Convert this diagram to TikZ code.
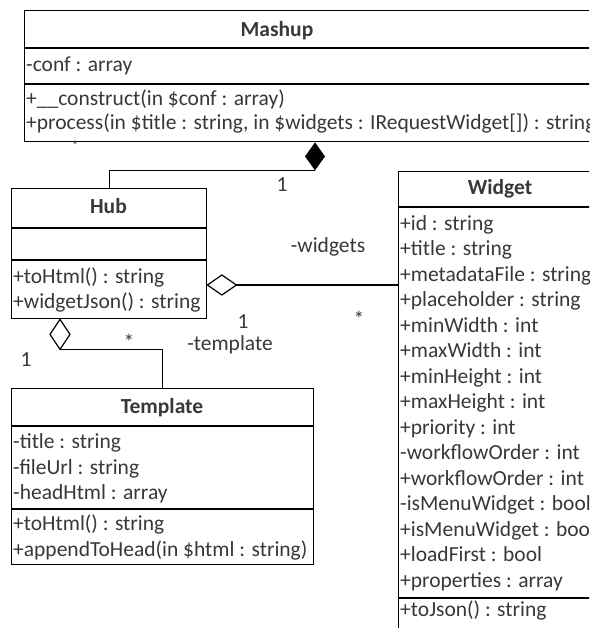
\documentclass[tikz,border=0pt]{standalone}
\usepackage{fontspec}
\setmainfont{Carlito}
\usetikzlibrary{calc}
\definecolor{txt}{gray}{0.22}
\tikzset{
  box/.style={draw=black, line width=1.4pt, rectangle, inner sep=0pt, anchor=north west},
  sep/.style={draw=black, line width=1.4pt},
  conn/.style={draw=black, line width=1.4pt},
  lbl/.style={anchor=base west, inner sep=0pt, text=txt, font=\fontsize{21.5}{25}\selectfont},
  ttl/.style={anchor=base, inner sep=0pt, text=txt, font=\fontsize{21.5}{25}\selectfont\bfseries},
  mult/.style={anchor=center, inner sep=0pt, text=txt, font=\fontsize{21.5}{25}\selectfont},
}
\begin{document}
\begin{tikzpicture}[x=1pt,y=-1pt]
\clip (0,0) rectangle (589,628);
\fill[white] (0,0) rectangle (589,628);
% ---------- Mashup ----------
\node[box, minimum width=620pt, minimum height=131pt] (mashup) at (24,10) {};
\draw[sep] (24,48) -- (620,48);
\draw[sep] (24,84) -- (620,84);
\node[ttl] (mashupT) at (277,37) {Mashup};
\node[lbl] (m1) at (26,72) {-conf : array};
\node[lbl] (m2) at (26,106) {+\_\_construct(in \$conf : array)};
\node[lbl] (m3) at (26,130) {+process(in \$title : string, in \$widgets : IRequestWidget[]) : string};
\node[anchor=center, inner sep=0pt, text=txt, font=\fontsize{14}{14}\selectfont] (mstar) at (75,146) {*};
% ---------- Hub ----------
\node[box, minimum width=195pt, minimum height=130pt] (hub) at (11,188) {};
\draw[sep] (11,228) -- (206,228);
\draw[sep] (11,260) -- (206,260);
\node[ttl] (hubT) at (108.5,214) {Hub};
\node[lbl] (h1) at (13,283) {+toHtml() : string};
\node[lbl] (h2) at (13,308) {+widgetJson() : string};
% ---------- Template ----------
\node[box, minimum width=302pt, minimum height=176pt] (tpl) at (11,388) {};
\draw[sep] (11,426) -- (313,426);
\draw[sep] (11,509) -- (313,509);
\node[ttl] (tplT) at (162,413) {Template};
\node[lbl] (t1) at (13,448) {-title : string};
\node[lbl] (t2) at (13,474) {-fileUrl : string};
\node[lbl] (t3) at (13,499) {-headHtml : array};
\node[lbl] (t4) at (13,530) {+toHtml() : string};
\node[lbl] (t5) at (13,556) {+appendToHead(in \$html : string)};
% ---------- Widget ----------
\node[box, minimum width=230pt, minimum height=500pt] (widget) at (398,171) {};
\draw[sep] (398,207) -- (628,207);
\draw[sep] (398,598) -- (628,598);
\node[ttl] (widgetT) at (500,195) {Widget};
\node[lbl] (w1) at (400,230) {+id : string};
\node[lbl] (w2) at (400,255.5) {+title : string};
\node[lbl] (w3) at (400,281) {+metadataFile : string};
\node[lbl] (w4) at (400,306.5) {+placeholder : string};
\node[lbl] (w5) at (400,332) {+minWidth : int};
\node[lbl] (w6) at (400,357.5) {+maxWidth : int};
\node[lbl] (w7) at (400,383) {+minHeight : int};
\node[lbl] (w8) at (400,408.5) {+maxHeight : int};
\node[lbl] (w9) at (400,434) {+priority : int};
\node[lbl] (w10) at (400,459.5) {-workflowOrder : int};
\node[lbl] (w11) at (400,485) {+workflowOrder : int};
\node[lbl] (w12) at (400,510.5) {-isMenuWidget : bool};
\node[lbl] (w13) at (400,536) {+isMenuWidget : bool};
\node[lbl] (w14) at (400,561.5) {+loadFirst : bool};
\node[lbl] (w15) at (400,587) {+properties : array};
\node[lbl] (w16) at (400,616) {+toJson() : string};
% ---------- Composition Mashup <>- Hub ----------
\coordinate (compTop) at (mashup.south -| 315,0);
\coordinate (compBot) at ($(compTop)+(0,28)$);
\fill[black] (compTop) -- ++(10,14) -- (compBot) -- ++(-10,-14) -- cycle;
\draw[conn] (hub.north) |- (compBot);
% ---------- Aggregation Hub <>- Widget ----------
\coordinate (aggW) at ($(hub.north east)+(0,97)$);
\coordinate (aggWend) at ($(aggW)+(29,0)$);
\draw[conn, fill=white, line width=1.2pt] (aggW) -- ++(14.5,-10) -- (aggWend) -- ++(-14.5,10) -- cycle;
\draw[conn] (aggWend) -- (aggWend -| widget.west);
% ---------- Aggregation Hub <>- Template ----------
\coordinate (aggT) at (hub.south -| 60,0);
\coordinate (aggTend) at ($(aggT)+(0,30)$);
\draw[conn, fill=white, line width=1.2pt] (aggT) -- ++(10,15) -- (aggTend) -- ++(-10,-15) -- cycle;
\draw[conn] (aggTend) -| (tpl.north);
% ---------- labels ----------
\node[mult] (c1) at (282,185) {1};
\node[mult] (wl) at (328,247) {-widgets};
\node[mult] (w1m) at (243,322) {1};
\node[mult] (wstar) at (359,319) {*};
\node[mult] (tl) at (230,345) {-template};
\node[mult] (tstar) at (129,342) {*};
\node[mult] (t1m) at (26,360) {1};
\end{tikzpicture}
\end{document}
